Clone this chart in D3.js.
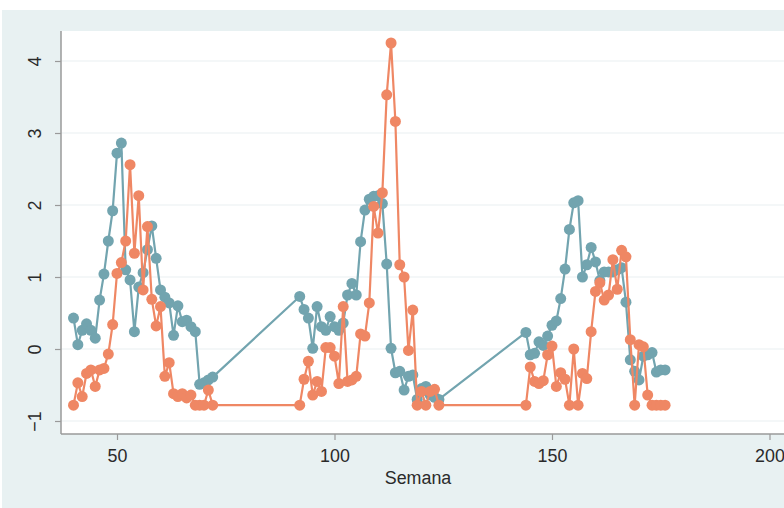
<!DOCTYPE html>
<html>
<head>
<meta charset="utf-8">
<script src="https://cdn.jsdelivr.net/npm/d3@7/dist/d3.min.js"></script>
<style>
  html, body { margin: 0; padding: 0; background: #ffffff; }
  svg { display: block; }
  text { font-family: "Liberation Sans", Arial, sans-serif; fill: #2a2a2a; }
</style>
</head>
<body>
<svg id="chart" width="784" height="508"></svg>
<script>
// Weeks with observations (three seasons)
const weeks = [
  40, 41, 42, 43, 44, 45, 46, 47, 48, 49, 50, 51, 52, 53, 54, 55, 56,
  57, 58, 59, 60, 61, 62, 63, 64, 65, 66, 67, 68, 69, 70, 71, 72,
  92, 93, 94, 95, 96, 97, 98, 99, 100, 101, 102, 103, 104, 105, 106, 107,
  108, 109, 110, 111, 112, 113, 114, 115, 116, 117, 118, 119, 120, 121, 122, 123, 124,
  144, 145, 146, 147, 148, 149, 150, 151, 152, 153, 154, 155, 156, 157, 158, 159,
  160, 161, 162, 163, 164, 165, 166, 167, 168, 169, 170, 171, 172, 173, 174, 175, 176
];

// First series (teal)
const seriesA = [
  0.43, 0.06, 0.26, 0.35, 0.26, 0.15, 0.68, 1.04, 1.50, 1.92, 2.72, 2.86, 1.10, 0.96, 0.24, 0.86, 1.06,
  1.38, 1.71, 1.26, 0.82, 0.72, 0.64, 0.19, 0.60, 0.38, 0.40, 0.31, 0.24, -0.49, -0.47, -0.43, -0.39,
  0.73, 0.55, 0.43, 0.01, 0.59, 0.31, 0.26, 0.45, 0.31, 0.26, 0.36, 0.75, 0.91, 0.75, 1.49, 1.93,
  2.08, 2.12, 2.13, 2.02, 1.18, 0.01, -0.33, -0.31, -0.57, -0.38, -0.36, -0.70, -0.55, -0.52, -0.64, -0.67, -0.70,
  0.23, -0.08, -0.06, 0.10, 0.05, 0.18, 0.33, 0.39, 0.70, 1.11, 1.66, 2.03, 2.06, 1.00, 1.17, 1.41,
  1.21, 0.95, 1.07, 1.07, 1.07, 1.10, 1.13, 0.65, -0.15, -0.31, -0.43, -0.10, -0.08, -0.05, -0.32, -0.29, -0.29
];

// Second series (orange)
const seriesB = [
  -0.78, -0.47, -0.66, -0.34, -0.29, -0.52, -0.29, -0.27, -0.07, 0.34, 1.05, 1.20, 1.50, 2.56, 1.33, 2.13, 0.82,
  1.70, 0.69, 0.32, 0.59, -0.38, -0.19, -0.62, -0.66, -0.62, -0.68, -0.64, -0.78, -0.78, -0.78, -0.57, -0.78,
  -0.78, -0.42, -0.17, -0.64, -0.45, -0.59, 0.02, 0.02, -0.10, -0.48, 0.59, -0.45, -0.43, -0.38, 0.21, 0.18,
  0.64, 1.98, 1.61, 2.17, 3.53, 4.25, 3.16, 1.17, 1.00, -0.02, 0.54, -0.78, -0.59, -0.78, -0.59, -0.56, -0.78,
  -0.78, -0.25, -0.45, -0.48, -0.44, -0.08, 0.04, -0.52, -0.33, -0.42, -0.78, 0.00, -0.78, -0.34, -0.41, 0.24,
  0.80, 0.92, 0.68, 0.75, 1.24, 0.83, 1.37, 1.28, 0.13, -0.78, 0.06, 0.03, -0.64, -0.78, -0.78, -0.78, -0.78
];

const xTicks = [50, 100, 150, 200];
const yTicks = [-1, 0, 1, 2, 3, 4];
const xTitle = "Semana";

const colorA = "#72a4af";
const colorB = "#ef8764";

const svg = d3.select("#chart");
const W = 784, H = 508;
const plot = { left: 61, top: 31, right: 784, bottom: 434 };

// Graph region background
svg.append("rect")
  .attr("x", 2).attr("y", 10).attr("width", W - 2).attr("height", H - 10)
  .attr("fill", "#e8f1f2");

// Plot region
svg.append("rect")
  .attr("x", plot.left).attr("y", plot.top)
  .attr("width", plot.right - plot.left).attr("height", plot.bottom - plot.top)
  .attr("fill", "#ffffff");

const x = d3.scaleLinear().domain([50, 200]).range([117, 769.5]);
const y = d3.scaleLinear().domain([-1, 4]).range([421, 61]);

// Horizontal grid lines
svg.append("g")
  .selectAll("line")
  .data(yTicks)
  .join("line")
  .attr("x1", plot.left).attr("x2", plot.right)
  .attr("y1", d => y(d)).attr("y2", d => y(d))
  .attr("stroke", "#e9f0f1").attr("stroke-width", 1.2);

// Y axis with vertical tick labels
const yAxis = svg.append("g")
  .attr("transform", `translate(${plot.left},0)`)
  .call(d3.axisLeft(y).tickValues(yTicks).tickSize(6).tickPadding(0)
    .tickFormat(d => d < 0 ? "\u2212" + Math.abs(d) : d));
yAxis.select(".domain").attr("d", `M0,${plot.top}V${plot.bottom}`).attr("stroke", "#9a9a9a").attr("stroke-width", 1.5);
yAxis.selectAll(".tick line").attr("stroke", "#9a9a9a").attr("stroke-width", 1.2);
yAxis.selectAll(".tick text")
  .attr("font-size", 19)
  .attr("fill", "#2a2a2a")
  .attr("text-anchor", "middle")
  .attr("dy", 0)
  .attr("x", 0)
  .attr("transform", "translate(-25,0) rotate(-90) scale(0.94,1)")
  .attr("dominant-baseline", "middle");

// X axis
const xAxis = svg.append("g")
  .attr("transform", `translate(0,${plot.bottom})`)
  .call(d3.axisBottom(x).tickValues(xTicks).tickSize(6).tickPadding(6).tickFormat(d3.format("d")));
xAxis.select(".domain").attr("d", `M${plot.left},0H${plot.right}`).attr("stroke", "#9a9a9a").attr("stroke-width", 1.5);
xAxis.selectAll(".tick line").attr("stroke", "#9a9a9a").attr("stroke-width", 1.2);
xAxis.selectAll(".tick text")
  .attr("font-size", 19).attr("fill", "#2a2a2a").attr("dy", "0.85em")
  .attr("transform", "scale(0.94,1)");

// Axis title
svg.append("text")
  .attr("transform", "translate(418,484) scale(0.94,1)")
  .attr("text-anchor", "middle")
  .attr("font-size", 19)
  .text(xTitle);

// Connected series: line first, then markers
const rows = weeks.map((w, i) => ({ w, a: seriesA[i], b: seriesB[i] }));
const series = [
  { key: "a", color: colorA },
  { key: "b", color: colorB }
];

series.forEach(s => {
  const line = d3.line().x(d => x(d.w)).y(d => y(d[s.key]));
  svg.append("path")
    .datum(rows)
    .attr("d", line)
    .attr("fill", "none")
    .attr("stroke", s.color)
    .attr("stroke-width", 2.2)
    .attr("stroke-linejoin", "round");
  svg.append("g")
    .selectAll("circle")
    .data(rows)
    .join("circle")
    .attr("cx", d => x(d.w))
    .attr("cy", d => y(d[s.key]))
    .attr("r", 5.5)
    .attr("fill", s.color);
});
</script>
</body>
</html>
